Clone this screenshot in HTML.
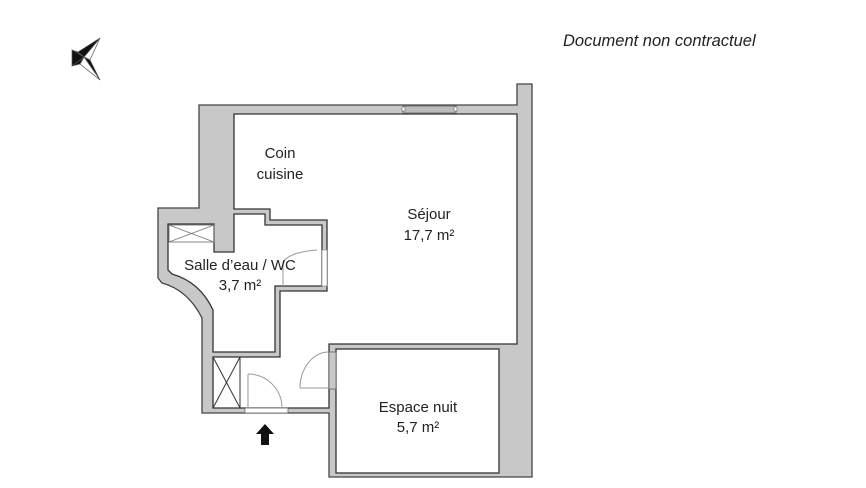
<!DOCTYPE html>
<html><head><meta charset="utf-8"><style>
html,body{margin:0;padding:0;background:#fff;width:866px;height:488px;overflow:hidden}
svg{display:block}
text{font-family:"Liberation Sans",sans-serif;fill:#222}
</style></head><body>
<svg width="866" height="488" viewBox="0 0 866 488">
<text x="563" y="46" font-size="16.5" font-style="italic" fill="#222">Document non contractuel</text>
<!-- compass -->
<g stroke="#555" stroke-width="0.7">
<polygon points="100,38 84,57 90,60" fill="#fff"/>
<polygon points="100,38 84,57 78,52" fill="#111"/>
<polygon points="100,80 84,57 90,60" fill="#111"/>
<polygon points="100,80 84,57 80,64" fill="#fff"/>
<polygon points="72,50 84,57 78,52" fill="#111"/>
<polygon points="72,66 84,57 80,64" fill="#111"/>
<polygon points="72,50 84,57 72,66" fill="#111"/>
</g>
<!-- gray walls -->
<path d="M199,105 L517,105 L517,84 L532,84 L532,477 L329,477 L329,413 L202,413 L202,318 Q188,290 162,283 L158,278 L158,208 L199,208 Z" fill="#c8c8c8" stroke="#444" stroke-width="1.3"/>
<!-- sejour + entrance -->
<path d="M234,114 L517,114 L517,344 L329,344 L329,408 L213,408 L213,357 L280,357 L280,291 L327,291 L327,220 L270,220 L270,209 L234,209 Z" fill="#fff" stroke="#333" stroke-width="1.3"/>
<!-- salle d'eau -->
<path d="M168,224 L214,224 L214,252 L234,252 L234,214 L265,214 L265,225 L322,225 L322,286 L275,286 L275,352 L213,352 L213,310 Q200,282 172,274 L168,270 Z" fill="#fff" stroke="#333" stroke-width="1.3"/>
<!-- espace nuit -->
<rect x="336" y="349" width="163" height="124" fill="#fff" stroke="#333" stroke-width="1.3"/>
<!-- window top -->
<rect x="403" y="106" width="53" height="7" fill="#bbb" stroke="#666" stroke-width="0.8"/>
<rect x="402" y="107" width="3" height="4" fill="#fff" stroke="#666" stroke-width="0.6"/>
<rect x="454" y="107" width="3" height="4" fill="#fff" stroke="#666" stroke-width="0.6"/>
<!-- hatched boxes -->
<g stroke="#777" stroke-width="0.9" fill="none">
<rect x="169" y="225" width="45" height="17"/>
<line x1="169" y1="225" x2="214" y2="242"/><line x1="169" y1="242" x2="214" y2="225"/>
</g>
<g stroke="#333" stroke-width="1" fill="none">
<rect x="213" y="357" width="27" height="51"/>
<line x1="213" y1="357" x2="240" y2="408"/><line x1="213" y1="408" x2="240" y2="357"/>
</g>
<!-- entrance door gap -->
<rect x="245" y="408" width="43" height="5" fill="#fff" stroke="#666" stroke-width="0.8"/>
<g stroke="#999" stroke-width="1" fill="none">
<line x1="248" y1="408" x2="248" y2="374"/>
<path d="M248,374 A34,34 0 0 1 282,408"/>
<line x1="329" y1="388" x2="300" y2="388"/>
<path d="M300,388 A29,36 0 0 1 329,352"/>
<line x1="283" y1="286" x2="283" y2="262"/>
<path d="M283,262 Q290,252 317,250"/>
</g>
<rect x="329" y="352" width="7" height="37" fill="#c8c8c8" stroke="#666" stroke-width="0.8"/>
<rect x="322" y="250" width="5" height="36" fill="#fff" stroke="#888" stroke-width="0.6"/>
<!-- arrow -->
<polygon points="265,424 274,434 269,434 269,445 261,445 261,434 256,434" fill="#111"/>
<!-- labels -->
<g font-size="15" text-anchor="middle">
<text x="280" y="158">Coin</text>
<text x="280" y="179">cuisine</text>
<text x="429" y="219">Séjour</text>
<text x="429" y="240">17,7 m²</text>
<text x="240" y="270">Salle d’eau / WC</text>
<text x="240" y="290">3,7 m²</text>
<text x="418" y="412">Espace nuit</text>
<text x="418" y="432">5,7 m²</text>
</g>
</svg>
</body></html>
